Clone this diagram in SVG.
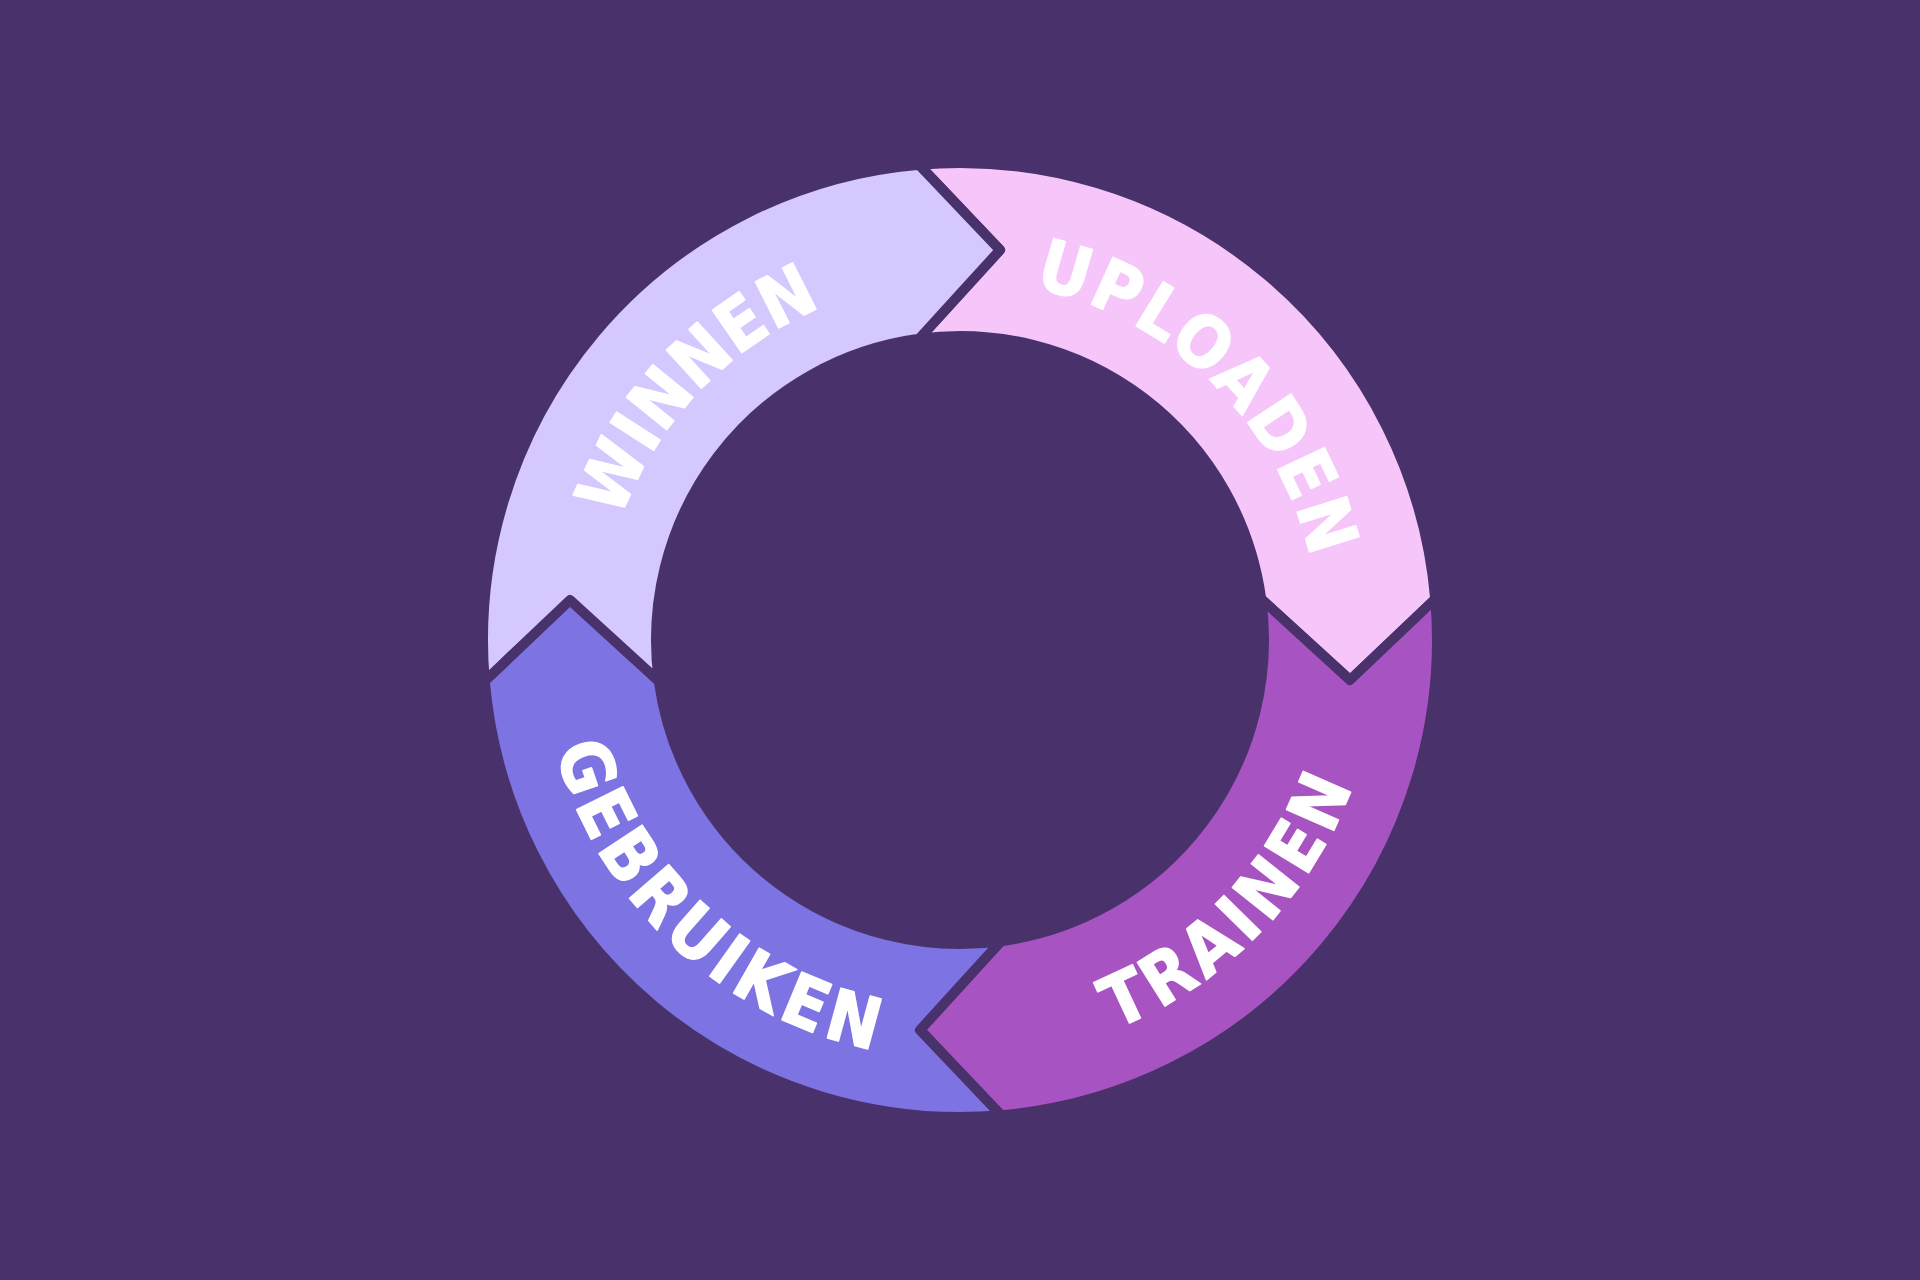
<svg xmlns="http://www.w3.org/2000/svg" width="1920" height="1280" viewBox="0 0 1920 1280">
  <defs>
    <style>
      .seg { stroke: #49326b; stroke-width: 10; stroke-linejoin: round; }
      .lbl { font-family: "DejaVu Sans Condensed", "DejaVu Sans", sans-serif; font-stretch: condensed; font-weight: bold; font-size: 71px; fill: #ffffff; stroke: #ffffff; stroke-width: 1.5; stroke-linejoin: round; }
      .top { letter-spacing: 2.8px; }
      .tight { letter-spacing: 0.5px; }
      .bot { letter-spacing: 5.5px; }
    </style>
    <path id="p-uploaden" d="M 750.95 346.92 A 360 360 0 0 1 1256.68 843.90"/>
    <path id="p-winnen" d="M 670.60 854.13 A 360 360 0 0 1 1158.86 339.80"/>
    <path id="p-trainen" d="M 725.70 987.35 A 419 419 0 0 0 1298.97 393.71"/>
    <path id="p-gebruiken" d="M 608.59 411.81 A 419 419 0 0 0 1212.15 974.62"/>
  </defs>
  <rect width="1920" height="1280" fill="#49326b"/>
  <g id="connectors"/>
  <g id="node-uploaden">
    <path class="seg" fill="#f6c6fa" d="M 919 164.77 A 477 477 0 0 1 1435.23 599 L 1350 680 L 1261.22 599 A 304 304 0 0 0 919 338.78 L 1000 250 Z"/>
    <text class="lbl top"><textPath href="#p-uploaden" startOffset="50%" text-anchor="middle">UPLOADEN</textPath></text>
  </g>
  <g id="node-trainen">
    <path class="seg" fill="#a853c2" d="M 1435.23 599 A 477 477 0 0 1 1001 1115.23 L 920 1030 L 1001 941.22 A 304 304 0 0 0 1261.22 599 L 1350 680 Z"/>
    <text class="lbl bot"><textPath href="#p-trainen" startOffset="50%" text-anchor="middle">TRAINEN</textPath></text>
  </g>
  <g id="node-gebruiken">
    <path class="seg" fill="#7d73e2" d="M 1001 1115.23 A 477 477 0 0 1 484.77 681 L 570 600 L 658.78 681 A 304 304 0 0 0 1001 941.22 L 920 1030 Z"/>
    <text class="lbl bot"><textPath href="#p-gebruiken" startOffset="50%" text-anchor="middle">GEBRUIKEN</textPath></text>
  </g>
  <g id="node-winnen">
    <path class="seg" fill="#d4c8ff" d="M 484.77 681 A 477 477 0 0 1 919 164.77 L 1000 250 L 919 338.78 A 304 304 0 0 0 658.78 681 L 570 600 Z"/>
    <text class="lbl tight"><textPath href="#p-winnen" startOffset="50%" text-anchor="middle">WINNEN</textPath></text>
  </g>
</svg>
